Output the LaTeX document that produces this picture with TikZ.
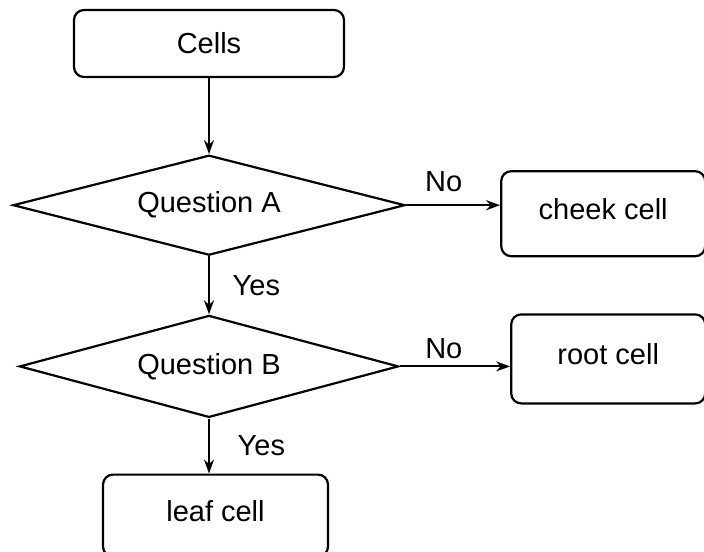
\documentclass[tikz,border=0pt]{standalone}
\usepackage{fontspec}
\setmainfont{Liberation Sans}
\usetikzlibrary{positioning,shapes.geometric,arrows.meta}

\begin{document}
\begin{tikzpicture}[
    font=\fontsize{14.5}{17}\selectfont,
    box/.style={draw,rounded corners=5pt,line width=1.1pt},
    cellbox/.style={box,text depth=5pt},
    decision/.style={draw,diamond,aspect=4,inner sep=0pt,line width=1.1pt},
    line/.style={-{Stealth[length=7pt,width=5pt]},line width=1pt}
  ]
              \useasboundingbox (0,0) rectangle (352pt,-275.5pt);
              \node[box,minimum width=135pt,minimum height=33.5pt] (cells) at (104.5pt,-21.75pt) {Cells};
              \node[decision,minimum width=196pt,minimum height=50pt,below=38pt of cells] (qa) {Question A};
              \node[cellbox,minimum width=102pt,minimum height=42.5pt,right=47pt of qa,yshift=-4.25pt] (cheek) {cheek cell};
              \node[decision,minimum width=189.5pt,minimum height=51pt,below=29pt of qa] (qb) {Question B};
              \node[cellbox,minimum width=97pt,minimum height=44.5pt,right=55.25pt of qb,yshift=3.75pt] (root) {root cell};
              \node[cellbox,minimum width=112.5pt,minimum height=41pt,below=27.5pt of qb,xshift=3.25pt] (leaf) {leaf cell};

              %down the middle
              \draw[line] (cells) -- (qa);
              \draw[line] (qa) -- (qb) node[midway,right=8pt] {Yes};
              \draw[line] (qb.south) -- (qb.south |- leaf.north) node[midway,right=10.5pt] {Yes};

              %no branches
              \draw[line] (qa.east) -- (qa.east -| cheek.west) node[pos=0.4,above=3pt] {No};
              \draw[line] (qb.east) -- (qb.east -| root.west) node[pos=0.4,above] {No};
\end{tikzpicture}
\end{document}
